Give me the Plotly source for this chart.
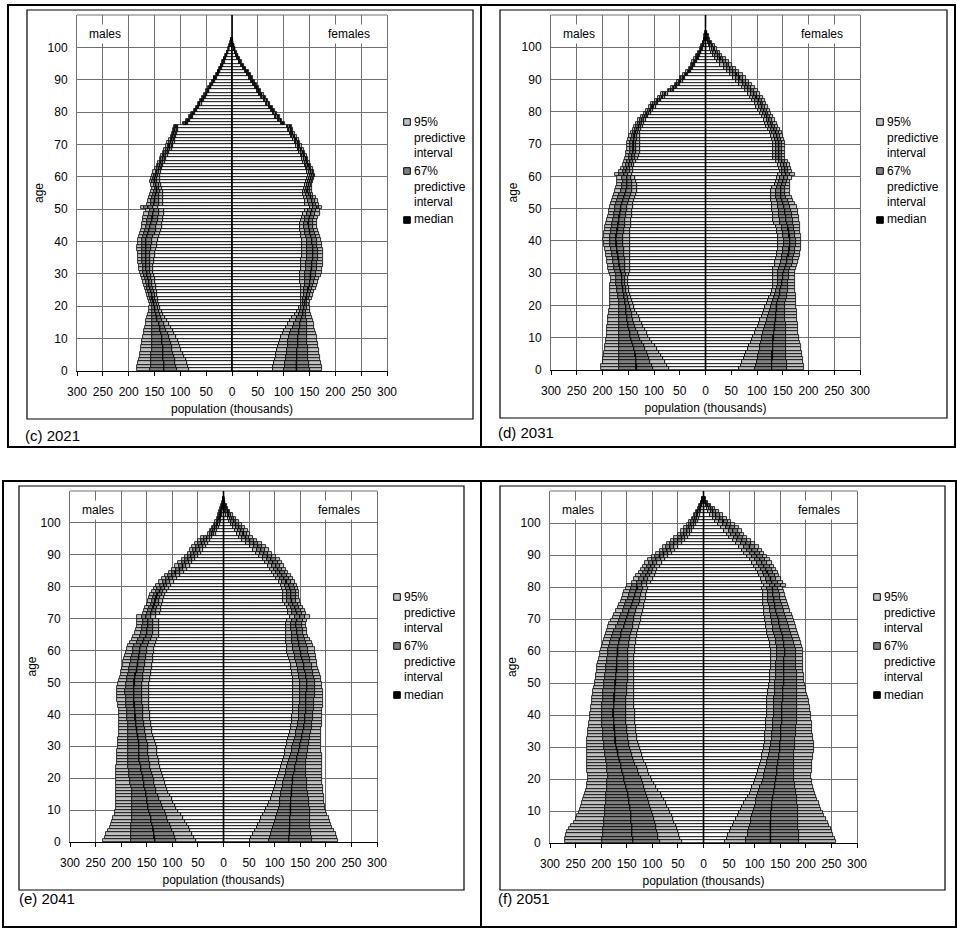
import plotly.graph_objects as go

# ---------------- data (thousands), index = age in years ----------------
# 2021
C_M_LO95 = [83,85,88,90,93,95,98,100,103,105, 108,112,115,119,122,126,129,133,136,139, 142,143,144,145,146,147,148,149,150,151, 152,152,152,151,151,150,149,148,146,145, 143,141,139,137,136,135,134,133,132,132, 143,134,134,134,134,134,136,138,140,140, 140,138,135,133,130,127,124,121,117,114, 111,110,108,107,105,104,86,81,76,71, 67,63,59,55,51,48,44,40,37,33, 30,26,23,20,17,14,12,9,7,5, 2,1,0]
C_M_LO67 = [107,108,110,111,113,115,116,117,119,120, 122,124,127,129,132,135,137,140,142,144, 146,147,149,150,151,153,154,155,156,157, 158,159,159,159,159,158,158,157,156,155, 154,152,150,148,147,146,144,143,142,141, 153,142,142,141,141,140,141,142,145,145, 144,141,138,136,133,130,127,124,120,117, 114,113,111,109,107,106,88,83,78,73, 69,65,61,57,53,49,45,41,38,34, 31,27,24,21,18,15,13,10,8,5, 3,1,0]
C_M_MED = [132,132,132,133,133,134,134,134,135,135, 136,137,139,140,142,145,146,147,149,150, 151,152,154,155,157,159,160,161,162,164, 165,166,166,167,167,167,167,167,167,166, 166,164,162,160,158,157,155,154,153,151, 163,151,150,149,148,146,146,147,150,150, 148,145,142,140,137,134,131,128,124,121, 118,116,114,112,110,109,90,85,80,75, 71,67,63,59,55,51,47,43,40,36, 33,29,26,23,20,17,14,11,9,6, 4,2,1]
C_M_HI67 = [158,157,157,156,156,156,155,155,155,154, 154,154,154,154,154,155,155,155,155,155, 155,156,158,160,162,164,165,167,168,170, 172,173,173,174,174,174,174,175,175,174, 174,172,170,168,166,165,164,163,161,158, 170,157,156,154,153,151,150,151,154,153, 151,148,145,143,140,137,134,131,127,124, 121,119,116,114,112,111,92,87,82,77, 72,68,64,60,56,52,48,44,41,37, 34,30,27,24,21,18,15,12,9,6, 4,2,1]
C_M_HI95 = [184,183,182,180,179,178,177,176,175,174, 173,171,170,168,167,166,164,163,161,160, 159,161,163,165,167,169,171,173,175,177, 179,180,180,181,181,182,182,183,183,182, 182,180,178,176,175,174,173,172,170,166, 177,164,162,160,158,156,155,156,158,157, 155,152,149,146,143,140,137,134,131,128, 125,122,119,117,115,113,94,89,84,79, 74,70,66,62,58,54,50,46,42,38, 35,31,28,25,22,19,16,13,10,7, 5,3,1]

C_F_LO95 = [79,80,82,83,85,86,88,89,91,92, 94,98,101,105,109,113,117,121,125,129, 133,133,133,133,133,133,133,132,132,132, 132,133,133,134,134,135,135,135,135,135, 135,134,133,132,131,131,133,135,138,141, 150,142,141,139,138,138,140,142,144,146, 148,146,143,141,138,136,133,130,127,124, 121,118,115,112,109,107,94,89,84,80, 75,71,66,62,57,53,49,45,41,37, 33,29,25,21,17,13,10,7,5,3, 1,0,0]
C_F_LO67 = [101,102,103,104,105,106,107,108,109,109, 111,113,115,118,120,123,126,129,131,134, 137,137,138,139,140,140,141,141,142,142, 142,143,144,144,145,146,146,145,145,145, 145,143,142,141,140,139,141,142,145,148, 157,149,148,145,143,142,143,145,147,149, 151,149,146,144,141,139,136,133,130,127, 124,121,117,114,111,109,96,91,86,82, 77,73,68,64,59,55,51,47,43,39, 35,31,27,23,19,14,11,8,6,4, 2,0,0]
C_F_MED = [125,125,125,126,126,126,126,127,127,127, 128,129,130,131,132,134,135,137,138,140, 141,142,144,145,147,148,150,151,152,152, 153,154,155,155,156,157,157,156,156,155, 155,153,151,150,149,148,149,150,153,155, 164,156,155,152,149,146,147,149,151,153, 155,153,150,148,145,143,140,137,134,130, 127,124,120,117,114,112,99,94,89,85, 80,76,71,67,62,57,53,49,45,41, 37,33,29,25,21,16,13,10,7,5, 3,1,0]
C_F_HI67 = [150,149,149,148,148,147,147,147,146,146, 146,146,145,145,145,145,144,144,144,145, 145,146,149,151,153,155,157,159,160,162, 163,164,165,165,166,167,167,166,165,164, 164,162,160,158,157,156,157,158,161,163, 169,162,161,157,153,150,150,152,154,156, 158,156,153,150,147,145,142,139,136,132, 129,126,122,119,116,114,101,95,90,86, 81,77,72,68,63,59,55,50,46,42, 38,34,30,26,22,17,14,11,8,5, 3,1,0]
C_F_HI95 = [175,174,173,171,170,168,168,167,166,165, 164,163,161,159,158,156,154,152,151,150, 149,151,154,157,159,162,164,167,169,172, 174,175,176,176,177,177,177,176,175,174, 173,171,169,167,165,164,165,167,170,171, 175,169,167,162,157,154,154,155,157,159, 161,159,156,153,150,148,145,142,139,135, 132,129,125,122,119,117,103,97,92,88, 83,79,74,70,65,61,57,52,48,44, 40,36,32,28,23,19,16,12,9,6, 4,2,1]

# 2031
D_M_LO95 = [71,75,79,83,87,91,95,99,103,107, 111,114,118,121,124,127,130,133,136,138, 140,142,144,146,148,149,150,150,150,148, 147,147,146,146,146,146,146,146,147,147, 147,147,146,146,145,144,144,143,143,142, 141,140,138,137,135,133,133,133,134,136, 143,141,140,138,135,131,130,128,128,128, 128,128,128,127,125,122,119,115,111,106, 102,97,92,86,79,73,61,56,50,44, 39,34,28,24,20,16,13,11,8,5, 3,2,1,0,0]
D_M_LO67 = [101,104,107,109,112,114,117,120,124,127, 130,132,134,136,138,140,142,143,145,147, 148,150,151,152,154,155,156,156,156,155, 156,156,156,157,157,158,158,159,160,160, 160,160,159,158,157,156,156,155,154,153, 152,151,149,147,145,143,143,142,143,144, 151,147,146,143,140,137,136,134,134,134, 134,133,133,131,129,126,123,119,114,109, 105,100,95,89,82,76,64,58,52,47, 41,36,30,26,22,18,15,12,9,6, 4,2,1,0,0]
D_M_MED = [134,134,135,135,136,137,139,141,143,144, 146,147,148,150,151,152,153,154,155,155, 156,157,158,159,160,161,162,162,162,163, 165,166,167,168,169,170,171,172,173,173, 174,173,172,171,170,169,168,167,166,165, 164,162,160,158,156,154,153,152,152,153, 159,154,152,149,146,143,142,141,140,140, 140,139,138,136,133,130,127,123,118,113, 108,103,98,92,85,79,67,61,55,50, 44,38,32,28,24,21,17,14,11,8, 5,3,2,1,0]
D_M_HI67 = [168,168,168,168,168,168,168,168,167,167, 167,167,167,167,167,167,167,167,167,167, 167,168,169,170,171,172,173,173,173,174, 176,177,178,179,180,181,182,184,185,185, 186,185,184,183,182,181,179,178,177,176, 175,173,171,169,167,165,163,162,161,162, 167,160,158,155,152,149,148,147,146,146, 146,144,143,140,137,134,131,127,121,116, 111,106,101,95,88,82,70,64,57,52, 47,40,34,30,26,23,19,16,13,9, 6,4,2,1,0]
D_M_HI95 = [203,202,200,199,198,197,196,195,194,193, 192,192,191,191,190,190,189,188,187,186, 185,185,185,185,185,185,185,184,184,186, 188,189,190,191,192,193,194,196,197,198, 199,198,197,196,195,193,191,190,188,187, 186,184,182,180,178,176,174,172,171,171, 176,167,164,161,158,156,155,154,153,152, 152,150,148,145,141,138,135,131,125,120, 115,110,105,98,92,86,73,67,60,55, 50,43,37,33,29,26,22,18,15,11, 8,5,3,2,1]

D_F_LO95 = [66,69,71,74,76,79,82,85,88,90, 93,96,98,101,103,106,109,111,114,116, 119,122,124,127,130,132,132,132,131,131, 131,132,134,135,137,138,139,140,140,141, 141,140,139,138,136,133,132,131,131,130, 129,129,128,128,128,128,130,134,136,138, 141,144,143,141,136,131,131,131,131,131, 131,130,128,125,122,117,116,114,110,106, 102,99,96,91,86,82,76,71,66,60, 54,48,42,35,29,23,19,15,11,8, 6,4,2,1,0]
D_F_LO67 = [97,98,100,101,102,103,105,106,108,109, 110,112,114,116,117,119,121,123,125,127, 129,131,133,135,137,139,140,140,140,141, 141,143,145,146,148,149,150,151,152,152, 152,151,150,149,148,145,144,143,143,142, 141,140,138,137,137,137,138,141,143,145, 149,149,148,146,142,137,136,136,136,137, 137,135,133,130,127,123,121,119,115,111, 107,104,101,97,92,88,82,77,72,66, 60,54,48,41,35,28,24,19,15,12, 9,6,3,2,0]
D_F_MED = [129,129,129,130,130,130,131,131,131,132, 132,133,134,134,135,136,137,137,138,138, 139,141,142,144,145,147,148,149,150,151, 152,154,156,158,159,161,162,163,164,164, 164,163,162,161,160,158,157,156,155,154, 153,151,149,147,146,146,147,149,151,153, 157,155,154,152,148,143,142,142,142,143, 143,141,139,136,133,129,127,124,120,117, 113,110,107,103,99,94,88,83,78,72, 66,60,54,47,41,34,29,24,20,16, 12,8,5,3,1]
D_F_HI67 = [158,158,158,157,157,157,157,157,157,157, 157,157,156,156,156,155,155,155,155,155, 155,157,158,159,160,160,161,161,162,162, 163,165,167,169,170,172,173,174,175,175, 175,174,173,172,171,170,169,168,167,166, 165,162,160,157,155,155,155,156,158,160, 165,161,160,158,154,149,148,148,148,149, 149,147,145,142,138,135,132,129,125,122, 119,115,112,109,105,100,94,89,84,78, 72,66,60,53,46,39,34,28,24,19, 15,10,7,4,2]
D_F_HI95 = [192,191,190,189,188,187,186,185,183,182, 181,180,180,179,179,178,178,177,177,176, 176,176,175,175,174,174,174,174,174,173, 174,176,178,180,182,183,184,185,186,186, 186,185,184,183,183,183,182,181,180,179, 177,174,170,167,165,164,164,164,165,167, 173,167,166,164,160,155,154,154,154,155, 155,153,151,148,144,141,138,135,131,128, 125,121,118,115,112,106,101,96,90,85, 79,73,66,59,52,45,39,33,28,23, 18,13,9,6,3]

# 2041
E_M_LO95 = [53,57,61,65,68,72,76,80,84,88, 92,95,98,101,104,108,110,112,114,116, 118,120,122,124,126,127,128,129,130,130, 131,133,135,137,139,140,141,142,143,144, 144,145,145,146,146,146,146,146,145,145, 144,143,142,141,140,139,138,137,137,136, 136,134,132,129,127,126,126,126,126,126, 131,124,123,122,120,119,117,114,111,107, 103,97,91,85,78,72,66,61,55,50, 44,40,35,31,26,22,15,12,9,7, 5,4,3,2,1,0,0,0]
E_M_LO67 = [92,95,97,100,102,105,108,110,113,115, 118,120,123,126,128,131,132,134,135,136, 137,139,141,143,144,145,146,147,147,148, 148,149,151,152,153,154,155,156,157,157, 157,158,158,159,159,160,160,160,160,159, 158,158,157,156,155,154,153,152,151,150, 149,147,145,142,140,138,137,137,137,137, 141,132,131,129,127,126,124,121,118,114, 110,104,98,93,86,79,73,68,62,56, 50,46,41,37,32,27,19,16,13,10, 7,6,4,3,2,1,0,0]
E_M_MED = [134,135,136,137,138,140,141,142,144,145, 147,148,149,150,151,152,153,155,156,157, 158,160,161,162,163,165,165,165,165,165, 165,166,167,168,169,170,171,171,172,172, 173,173,174,174,175,175,175,175,175,174, 174,173,172,170,169,168,167,166,165,164, 163,161,158,155,152,150,149,148,148,148, 151,141,139,137,135,133,131,129,125,122, 117,112,106,101,94,86,80,75,69,63, 57,53,48,43,38,32,23,20,17,13, 10,8,6,5,3,2,1,0]
E_M_HI67 = [181,181,181,180,180,180,179,179,178,178, 178,178,178,178,178,178,179,180,182,183, 184,185,185,186,186,186,186,186,186,186, 186,186,186,186,186,186,187,187,188,188, 189,189,190,190,191,191,192,192,191,190, 189,188,187,185,184,182,181,180,179,177, 176,174,170,167,164,161,160,159,158,158, 160,149,147,145,142,140,138,136,132,129, 124,119,113,108,100,93,87,81,76,70, 63,59,54,49,44,38,27,24,20,16, 13,10,8,6,4,3,1,1]
E_M_HI95 = [235,232,229,226,222,219,217,215,213,212, 211,211,210,210,210,210,210,210,210,210, 210,210,210,210,209,209,209,208,208,207, 207,206,206,205,205,204,204,204,204,204, 204,205,206,207,208,208,209,209,208,206, 204,203,201,200,198,197,196,195,193,191, 189,186,182,179,176,173,171,170,169,169, 170,157,155,153,150,147,145,143,139,136, 132,126,120,114,107,100,94,88,82,76, 70,66,61,56,50,44,30,26,22,19, 16,13,10,8,6,4,2,1]

E_F_LO95 = [51,54,58,61,65,68,71,74,78,81, 84,87,89,92,94,97,99,101,103,105, 107,109,111,113,115,117,118,120,121,123, 124,125,127,128,130,131,132,133,134,134, 135,135,135,136,136,136,136,136,136,136, 136,135,134,133,132,131,130,128,127,125, 124,124,123,123,122,122,122,122,122,124, 130,126,126,124,120,117,117,117,117,115, 113,108,103,99,95,90,86,81,77,70, 64,58,51,44,37,30,26,22,18,14, 11,8,5,3,2,1,0,0]
E_F_LO67 = [89,91,93,94,96,98,100,102,105,107, 109,110,110,111,112,113,114,116,117,119, 120,122,123,125,126,128,130,131,133,134, 136,138,139,141,142,144,145,146,147,147, 148,148,148,149,149,149,149,149,149,149, 149,148,147,146,145,143,142,140,139,137, 136,135,134,134,133,133,132,132,132,133, 140,134,134,131,128,125,124,124,124,122, 120,115,111,107,103,98,94,89,85,78, 71,65,59,51,44,36,32,28,24,19, 15,12,8,5,3,2,0,0]
E_F_MED = [128,128,129,129,130,130,130,130,131,131, 131,131,132,132,133,133,134,134,135,135, 136,137,139,140,142,143,144,146,147,149, 150,151,153,154,156,157,158,159,160,160, 161,161,161,162,162,162,162,163,163,163, 163,162,161,160,158,157,156,154,152,151, 149,148,147,146,145,144,143,142,142,143, 150,143,142,139,136,133,132,132,132,130, 128,123,119,115,111,106,102,97,93,86, 79,73,67,59,51,43,39,34,30,25, 20,16,11,8,5,3,1,0]
E_F_HI67 = [172,172,171,171,170,169,169,169,169,169, 169,168,168,167,166,165,164,164,163,163, 162,162,162,162,162,162,163,164,165,166, 167,168,169,170,171,172,173,173,174,174, 175,176,176,177,177,178,178,178,178,178, 178,176,175,174,173,172,170,169,167,166, 165,163,161,159,157,156,155,154,154,155, 160,153,152,148,145,142,141,141,141,139, 137,132,128,124,120,115,111,106,102,95, 87,81,75,67,59,50,46,41,36,31, 25,20,15,11,7,5,2,1]
E_F_HI95 = [224,221,219,216,213,211,208,206,203,201, 198,198,197,196,196,195,194,194,193,193, 193,193,193,193,193,193,192,192,191,191, 191,191,191,191,191,191,192,192,192,193, 193,193,194,194,195,195,195,194,193,192, 191,190,188,186,185,183,182,181,180,179, 178,175,172,169,166,163,163,162,162,163, 170,161,159,155,152,149,148,148,147,145, 143,139,135,131,127,123,119,114,110,102, 94,89,84,75,66,57,52,47,42,36, 30,24,18,13,9,6,3,1]

# 2051
F_M_LO95 = [43,45,47,49,52,54,57,60,62,65, 68,71,74,78,81,84,88,92,96,100, 103,106,108,111,113,116,118,121,123,125, 127,128,129,130,131,132,132,133,133,134, 134,134,135,135,135,135,135,135,135,135, 135,135,135,136,136,136,136,135,135,134, 134,133,132,131,130,129,128,126,125,123, 122,120,119,117,116,114,113,112,110,108, 110,102,99,95,92,90,85,81,76,69, 62,56,50,43,36,30,26,22,18,15, 11,9,7,5,4,3,1,0]
F_M_LO67 = [86,88,89,91,92,93,95,97,99,101, 103,105,107,109,110,112,114,116,119,121, 123,126,128,130,133,135,137,139,141,143, 145,146,147,148,149,150,150,151,151,151, 151,151,151,151,151,151,150,150,149,149, 148,148,148,148,147,147,147,147,147,147, 147,146,145,144,143,142,140,138,137,136, 135,133,131,129,127,125,124,123,121,118, 120,111,108,104,100,98,94,90,84,77, 70,63,57,50,43,36,32,27,23,19, 15,12,10,7,5,4,2,0]
F_M_MED = [138,138,139,139,140,140,141,141,142,142, 143,144,145,146,147,148,150,151,153,155, 156,158,159,161,162,164,165,167,168,170, 171,172,172,173,173,174,174,175,175,176, 176,176,175,175,174,174,174,173,173,172, 172,171,171,170,170,169,169,169,168,168, 168,167,165,164,162,161,159,156,154,151, 149,147,145,142,140,138,136,134,132,129, 130,120,117,113,109,106,102,98,93,86, 78,71,65,58,50,43,38,33,28,24, 19,16,13,10,7,5,3,1]
F_M_HI67 = [198,198,197,197,196,195,195,194,193,193, 192,192,191,191,190,190,189,189,188,188, 187,187,188,188,189,190,191,192,193,194, 195,195,196,196,197,197,198,198,199,199, 199,199,198,198,197,197,196,196,195,195, 194,193,192,191,191,190,189,188,187,186, 186,184,182,180,178,177,174,171,168,166, 164,161,158,156,153,151,148,146,144,141, 140,130,126,122,118,114,110,106,101,94, 86,79,73,65,57,50,44,39,33,29, 24,20,16,13,9,7,4,2]
F_M_HI95 = [271,270,268,266,262,258,254,250,247,244, 241,239,237,235,233,232,230,228,227,226, 226,226,227,227,228,228,228,228,228,228, 228,228,227,226,226,225,224,223,222,222, 221,220,219,218,217,217,216,215,214,213, 212,211,210,209,209,208,206,205,203,202, 200,198,196,195,192,190,188,186,184,180, 177,174,171,168,165,162,160,157,155,152, 150,139,135,131,126,122,118,114,109,101, 93,86,80,72,64,57,50,44,38,33, 28,23,19,15,11,8,5,2]

F_F_LO95 = [42,45,48,51,54,57,60,63,67,70, 73,76,80,83,87,90,93,95,98,100, 103,105,107,109,110,112,114,115,117,118, 119,120,120,121,121,122,122,123,123,124, 124,124,125,125,125,125,126,127,128,128, 129,129,130,130,131,131,131,131,131,131, 131,130,129,128,126,125,124,123,122,121, 120,119,119,118,117,116,116,116,116,115, 119,114,112,109,106,103,99,95,90,85, 80,75,70,64,57,50,45,40,34,29, 23,18,12,9,6,4,2,1]
F_F_LO67 = [83,84,86,87,89,90,92,93,95,96, 98,100,102,103,105,107,109,111,114,116, 118,119,121,122,124,125,126,128,129,130, 132,132,133,134,134,135,135,136,136,137, 137,137,137,138,138,138,139,139,140,140, 140,141,141,141,142,142,142,143,143,144, 144,143,142,141,139,138,136,135,134,133, 132,131,130,129,128,127,126,126,126,125, 130,124,122,119,116,113,109,105,100,95, 90,85,80,74,66,59,54,49,43,38, 31,25,19,14,10,7,4,2]
F_F_MED = [131,131,131,131,131,131,131,132,132,132, 133,134,134,135,136,137,138,139,140,141, 142,143,144,144,145,146,147,148,149,149, 150,150,151,151,152,152,152,153,153,153, 153,154,154,154,155,155,155,156,156,157, 157,157,157,157,157,157,158,158,159,159, 159,158,157,156,155,153,152,150,148,147, 145,143,142,140,139,138,137,136,136,135, 140,134,131,128,125,122,118,114,110,105, 100,95,90,83,75,68,63,58,52,46, 39,32,25,19,14,9,5,2]
F_F_HI67 = [187,186,186,186,185,185,185,185,184,184, 184,184,183,183,182,181,180,179,178,177, 176,176,176,176,176,176,176,177,177,178, 178,179,179,180,180,181,181,182,182,183, 183,183,183,183,183,183,183,183,183,183, 183,182,182,182,181,181,181,181,180,180, 180,178,177,175,173,171,169,167,165,163, 161,159,157,155,153,152,150,149,148,146, 152,146,142,139,136,133,129,125,121,116, 111,106,101,93,85,77,72,67,61,54, 47,39,32,25,18,12,7,3]
F_F_HI95 = [259,257,254,252,249,246,243,240,236,233, 230,227,225,222,220,217,216,214,213,212, 211,211,212,212,213,213,214,214,215,215, 215,215,214,214,213,213,212,212,211,211, 210,209,208,207,206,205,203,201,200,198, 197,196,196,195,195,194,194,194,194,194, 194,193,191,189,187,185,183,181,179,176, 174,172,170,167,165,163,161,159,157,155, 161,155,151,148,145,142,138,133,129,124, 119,114,109,101,93,85,80,76,70,62, 54,46,38,30,22,15,8,4]

CAPTIONS = ["(c) 2021", "(d) 2031", "(e) 2041", "(f) 2051"]
X_TICKS = [-300, -250, -200, -150, -100, -50, 0, 50, 100, 150, 200, 250, 300]
X_TICK_LABELS = ["300", "250", "200", "150", "100", "50", "0", "50", "100", "150", "200", "250", "300"]
Y_TICKS = [0, 10, 20, 30, 40, 50, 60, 70, 80, 90, 100]
LEGEND_LABELS = ["95%<br>predictive<br>interval", "67%<br>predictive<br>interval", "median"]

# ---------------- styling / layout (pixels of the 957x928 page) ----------------
W, H = 957, 928
FONT = "Liberation Sans, Arial, Helvetica, sans-serif"
LIGHT = "#c0c0c0"
DARK = "#808080"
GRIDC = "#707070"
OUTLINE = 0.8
MEDIAN_W = 0.4

PANELS = [
    dict(m=(C_M_LO95, C_M_LO67, C_M_MED, C_M_HI67, C_M_HI95),
         f=(C_F_LO95, C_F_LO67, C_F_MED, C_F_HI67, C_F_HI95),
         plot=(77, 387, 15, 371), box=(27, 10, 473, 419), outer=(8, 5, 481, 447),
         cap=(23, 435), leg=(407, 122)),
    dict(m=(D_M_LO95, D_M_LO67, D_M_MED, D_M_HI67, D_M_HI95),
         f=(D_F_LO95, D_F_LO67, D_F_MED, D_F_HI67, D_F_HI95),
         plot=(551, 860, 15, 370), box=(500, 10, 947, 418), outer=(481, 5, 955, 447),
         cap=(496, 433), leg=(880, 122)),
    dict(m=(E_M_LO95, E_M_LO67, E_M_MED, E_M_HI67, E_M_HI95),
         f=(E_F_LO95, E_F_LO67, E_F_MED, E_F_HI67, E_F_HI95),
         plot=(70, 377, 491, 842), box=(19, 486, 464, 890), outer=(3, 481, 481, 927),
         cap=(17, 898), leg=(397, 597)),
    dict(m=(F_M_LO95, F_M_LO67, F_M_MED, F_M_HI67, F_M_HI95),
         f=(F_F_LO95, F_F_LO67, F_F_MED, F_F_HI67, F_F_HI95),
         plot=(550, 857, 491, 843), box=(500, 486, 945, 890), outer=(481, 481, 956, 927),
         cap=(496, 898), leg=(877, 597)),
]


def px(x):
    return x / W


def py(y):
    return 1 - y / H


fig = go.Figure()
shapes = []
annotations = []


def add_side(vals, sign, xa, ya):
    lo95, lo67, med, hi67, hi95 = vals
    n = len(hi95)
    ages = [a + 0.5 for a in range(n)]
    zeros = [0] * n
    segs = [(zeros, lo95, "white"), (lo95, lo67, LIGHT), (lo67, med, DARK),
            (med, hi67, DARK), (hi67, hi95, LIGHT)]
    for start, end, color in segs:
        fig.add_trace(go.Bar(
            y=ages, x=[sign * (e - s) for s, e in zip(start, end)],
            base=[sign * s for s in start], orientation="h", width=1,
            marker=dict(color=color, line=dict(color="black", width=OUTLINE)),
            xaxis=xa, yaxis=ya, showlegend=False, hoverinfo="skip"))
    fig.add_trace(go.Bar(
        y=ages, x=[sign * MEDIAN_W] * n,
        base=[sign * (m - MEDIAN_W / 2) for m in med], orientation="h", width=1,
        marker=dict(color="black", line=dict(color="black", width=0.3)),
        xaxis=xa, yaxis=ya, showlegend=False, hoverinfo="skip"))


layout_axes = {}
for i, p in enumerate(PANELS, start=1):
    sx = "" if i == 1 else str(i)
    xa, ya = "x" + sx, "y" + sx
    add_side(p["m"], -1, xa, ya)
    add_side(p["f"], 1, xa, ya)

    x0, x1, y0, y1 = p["plot"]
    layout_axes["xaxis" + sx] = dict(
        domain=[px(x0), px(x1)], anchor=ya, range=[-300, 300], automargin=False,
        tickvals=X_TICKS, ticktext=X_TICK_LABELS, ticks="outside", ticklen=4,
        tickcolor="black", tickwidth=1, ticklabelstandoff=6,
        showline=True, linecolor="black", linewidth=1, mirror=False,
        showgrid=True, gridcolor=GRIDC, gridwidth=1, zeroline=False,
        tickfont=dict(size=12, color="black", family=FONT),
        title=dict(text="population (thousands)", standoff=6,
                   font=dict(size=12, color="black", family=FONT)),
        fixedrange=True)
    layout_axes["yaxis" + sx] = dict(
        domain=[py(y1), py(y0)], anchor=xa, range=[0, 110], automargin=False,
        tickvals=Y_TICKS, ticks="", ticklabelstandoff=6,
        showline=True, linecolor=GRIDC, linewidth=1, mirror=True,
        showgrid=True, gridcolor=GRIDC, gridwidth=1, zeroline=False,
        tickfont=dict(size=12, color="black", family=FONT),
        title=dict(text="age", standoff=1,
                   font=dict(size=12, color="black", family=FONT)),
        fixedrange=True)

    # top border of plot area and the black centre axis at 0
    shapes.append(dict(type="line", xref=xa + " domain", yref=ya + " domain",
                       x0=0, x1=1, y0=1, y1=1, line=dict(color=GRIDC, width=1)))
    shapes.append(dict(type="line", xref=xa, yref=ya + " domain",
                       x0=0, x1=0, y0=0, y1=1, line=dict(color="black", width=1.6),
                       layer="above"))

    # chart-area box and outer panel box
    bx0, by0, bx1, by1 = p["box"]
    shapes.append(dict(type="rect", xref="paper", yref="paper",
                       x0=px(bx0), x1=px(bx1), y0=py(by1), y1=py(by0),
                       line=dict(color="black", width=1.2), fillcolor="rgba(0,0,0,0)"))
    ox0, oy0, ox1, oy1 = p["outer"]
    shapes.append(dict(type="rect", xref="paper", yref="paper",
                       x0=px(ox0), x1=px(ox1), y0=py(oy1), y1=py(oy0),
                       line=dict(color="black", width=2), fillcolor="rgba(0,0,0,0)"))

    # males / females labels
    for txt, xv in (("males", -245), ("females", 226)):
        annotations.append(dict(text=txt, xref=xa, yref=ya, x=xv, y=104.0,
                                showarrow=False, bgcolor="white", borderpad=2,
                                font=dict(size=12, color="black", family=FONT)))

    # caption
    cx, cy = p["cap"]
    annotations.append(dict(text=CAPTIONS[i - 1], xref="paper", yref="paper",
                            x=px(cx), y=py(cy), xanchor="left", yanchor="middle",
                            showarrow=False,
                            font=dict(size=15, color="black", family=FONT)))

    # legend
    lx, ly = p["leg"]
    for k, (lab, col) in enumerate(zip(LEGEND_LABELS, [LIGHT, DARK, "black"])):
        yy = ly + 49 * k
        shapes.append(dict(type="rect", xref="paper", yref="paper",
                           x0=px(lx - 3.3), x1=px(lx + 3.3),
                           y0=py(yy + 3.3), y1=py(yy - 3.3),
                           line=dict(color="black", width=1), fillcolor=col))
        annotations.append(dict(text=lab, xref="paper", yref="paper",
                                x=px(lx + 5.5), y=py(yy - 8.5), xanchor="left",
                                yanchor="top", align="left", showarrow=False,
                                borderpad=0,
                                font=dict(size=12, color="black", family=FONT)))

fig.update_layout(
    template="none",
    width=W, height=H, margin=dict(l=0, r=0, t=0, b=0, pad=0),
    paper_bgcolor="white", plot_bgcolor="white",
    barmode="overlay", bargap=0, showlegend=False,
    font=dict(family=FONT, size=12, color="black"),
    shapes=shapes, annotations=annotations, **layout_axes)

fig.write_html("out.html", config={"displayModeBar": False},
               post_script="document.body.style.margin='0px';")
